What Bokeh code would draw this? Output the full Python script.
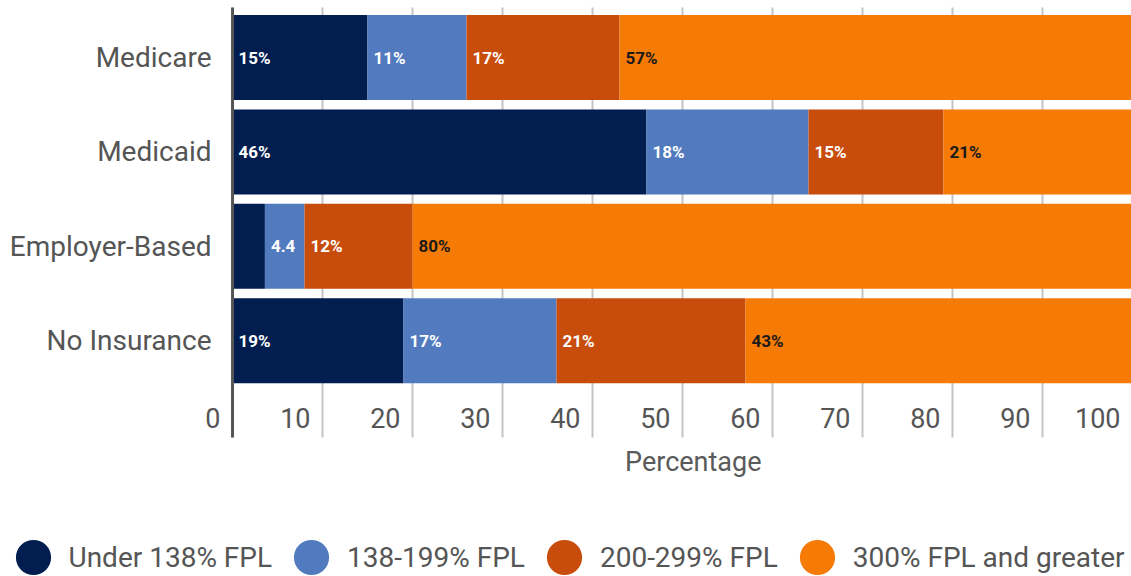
from bokeh.plotting import figure
from bokeh.models import Range1d, ColumnDataSource, Legend, LegendItem
from bokeh.core.properties import value
from bokeh.embed import file_html
from bokeh.resources import INLINE
import numpy as np

# ---------------- data ----------------
categories = ["Medicare", "Medicaid", "Employer-Based", "No Insurance"]
series_names = ["Under 138% FPL", "138-199% FPL", "200-299% FPL", "300% FPL and greater"]

under_138 = [15, 46, 3.6, 19]
fpl_138_199 = [11, 18, 4.4, 17]
fpl_200_299 = [17, 15, 12, 21]
fpl_300_plus = [57, 21, 80, 43]

labels_under_138 = ["15%", "46%", "", "19%"]
labels_138_199 = ["11%", "18%", "4.4", "17%"]
labels_200_299 = ["17%", "15%", "12%", "21%"]
labels_300_plus = ["57%", "21%", "80%", "43%"]

x_ticks = [0, 10, 20, 30, 40, 50, 60, 70, 80, 90, 100]
x_tick_labels = ["0", "10", "20", "30", "40", "50", "60", "70", "80", "90", "100"]
x_axis_title = "Percentage"

# ---------------- style / layout constants ----------------
FONT = "Roboto"
colors = ["#021e50", "#527bbf", "#c84c0c", "#f67a06"]
label_colors = ["#ffffff", "#ffffff", "#ffffff", "#1a1a1a"]
TEXT_GRAY = "#555555"

X_START, X_END = -25.78, 99.89        # frame spans the full canvas; 0 sits at 232px
Y_START, Y_END = -2.498, 3.604
PLOT_Y_BOTTOM, PLOT_Y_TOP = -1.025, 3.53   # extent of grid + axis line
TICK_LABEL_Y = -0.82
TITLE_Y = -1.29
TITLE_X = 51.2

y_pos = [len(categories) - 1 - i for i in range(len(categories))]

p = figure(width=1131, height=576, output_backend="svg", toolbar_location=None,
           x_range=Range1d(X_START, X_END), y_range=Range1d(Y_START, Y_END),
           min_border_left=0, min_border_right=0, min_border_top=0, min_border_bottom=0,
           x_axis_location=None, y_axis_location=None)
p.outline_line_color = None
p.background_fill_color = "white"
p.border_fill_color = "white"
p.grid.visible = False

# vertical grid lines, limited to the plotting band
grid_src = ColumnDataSource(dict(x=x_ticks, y0=[PLOT_Y_BOTTOM] * len(x_ticks),
                                 y1=[PLOT_Y_TOP] * len(x_ticks)))
p.segment(x0="x", y0="y0", x1="x", y1="y1", source=grid_src,
          line_color="#c4c4c4", line_width=2, level="underlay")

# the dark value-axis line at x = 0
p.segment(x0=[x_ticks[0]], y0=[PLOT_Y_BOTTOM], x1=[x_ticks[0]], y1=[PLOT_Y_TOP],
          line_color="#555555", line_width=3, level="overlay")

values = [under_138, fpl_138_199, fpl_200_299, fpl_300_plus]
labels = [labels_under_138, labels_138_199, labels_200_299, labels_300_plus]

left = np.zeros(len(categories))
legend_items = []
for name, vals, labs, col, tcol in zip(series_names, values, labels, colors, label_colors):
    vals = np.array(vals, dtype=float)
    src = ColumnDataSource(dict(y=y_pos, left=left, right=left + vals, label=labs))
    p.hbar(y="y", left="left", right="right", height=0.9, source=src,
           fill_color=col, line_color=None)
    p.text(x="left", y="y", text="label", source=src, x_offset=6,
           text_align="left", text_baseline="middle", text_color=tcol,
           text_font=value(FONT), text_font_size="17px", text_font_style="bold")
    # legend proxy: a round marker whose point lies outside the visible range
    proxy = p.ellipse(x=[X_START - 50], y=[Y_START - 50], width=20, height=20,
                      width_units="screen", height_units="screen",
                      fill_color=col, line_color=None)
    legend_items.append(LegendItem(label=name, renderers=[proxy]))
    left = left + vals

# category labels
cat_src = ColumnDataSource(dict(x=[0] * len(categories), y=y_pos, text=categories))
p.text(x="x", y="y", text="text", source=cat_src, x_offset=-21, text_align="right",
       text_baseline="middle", text_font=value(FONT), text_font_size="28px",
       text_color=TEXT_GRAY)

# value tick labels (sit left of their grid line)
tick_src = ColumnDataSource(dict(x=x_ticks, y=[TICK_LABEL_Y] * len(x_ticks), text=x_tick_labels))
p.text(x="x", y="y", text="text", source=tick_src, x_offset=-12, text_align="right",
       text_baseline="middle", text_font=value(FONT), text_font_size="27px",
       text_color=TEXT_GRAY)

# axis title
p.text(x=[TITLE_X], y=[TITLE_Y], text=[x_axis_title], text_align="center",
       text_baseline="middle", text_font=value(FONT), text_font_size="27px",
       text_color="#5a5a5a")

legend = Legend(items=legend_items, orientation="horizontal", location=(10.5, -3),
                glyph_width=44, glyph_height=44, label_standoff=14, spacing=17,
                padding=0, margin=0, border_line_color=None, background_fill_alpha=0,
                label_text_font=FONT, label_text_font_size="28px",
                label_text_color=TEXT_GRAY, label_text_baseline="middle")
p.add_layout(legend)

open("out.html", "w").write(file_html(p, INLINE))
